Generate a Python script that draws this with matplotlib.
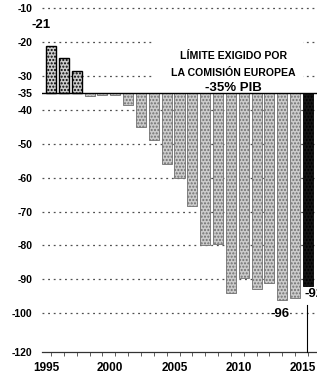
import numpy as np
import matplotlib
matplotlib.use('Agg')
import matplotlib.pyplot as plt
from matplotlib.patches import Rectangle
from matplotlib.transforms import ScaledTranslation

# Data (% del PIB)
years = np.arange(1995, 2016)
values = np.array([-21, -24.5, -28.5, -36, -35.5, -35.7, -38.5, -45, -49, -56, -60,
                   -68.5, -80, -79.5, -94, -89.5, -93, -91, -96, -95.5, -92])
base = -35
ytick_vals = [-10, -20, -30, -35, -40, -50, -60, -70, -80, -90, -100, -120]
grid_vals = [-10, -20, -30, -40, -50, -60, -70, -80, -90, -100]
xtick_vals = [1995, 2000, 2005, 2010, 2015]
title_lines = ['LÍMITE EXIGIDO POR', 'LA COMISIÓN EUROPEA']
title_value = '-35% PIB'

plt.rcParams['font.family'] = ['Liberation Sans', 'DejaVu Sans']

# broken axis below -100
def fwd(v):
    v = np.asarray(v, dtype=float)
    return np.where(v >= -100, v, -100 + (v + 100) * 0.575)

def inv(t):
    t = np.asarray(t, dtype=float)
    return np.where(t >= -100, t, -100 + (t + 100) / 0.575)

fig = plt.figure(figsize=(3.17, 3.76), dpi=100)
ax = fig.add_axes([42/317., 24/376., 275/317., 352/376.])
ax.set_yscale('function', functions=(fwd, inv))
ax.set_xlim(1994.3, 2015.7)
ax.set_ylim(-120, -7.5)

# gridlines
ax.hlines(grid_vals, 1994.3, 2015.7, colors='#505050', linewidths=0.9,
          linestyles=(0, (1.5, 3)), zorder=0.5)
ax.axhline(base, color='black', lw=1.0, zorder=3)

# bars
cols = ['#cccccc'] * (len(years) - 1) + ['#151515']
edges = ['#707070'] * (len(years) - 1) + ['#000000']
for i in range(3):
    edges[i] = 'black'
bars = ax.bar(years, values - base, bottom=base, width=0.78, color=cols,
              edgecolor=edges, linewidth=0.6, hatch='.....', zorder=2)
for i in range(3):
    bars[i].set_linewidth(1.0)

# white box behind the annotation
ax.add_patch(Rectangle((2002.9, -34.2), 11.7, 20.5, facecolor='white',
                       edgecolor='none', zorder=1))
for txt, yb in zip(title_lines, [-25.0, -30.1]):
    ax.text(2009.2, yb, txt, ha='center', va='baseline',
            fontsize=7.6, fontweight='bold', zorder=4)
ax.text(2009.2, -34.4, title_value, ha='center', va='baseline',
        fontsize=9.5, fontweight='bold', zorder=4)

# value labels
ax.text(years[0] - 0.8, -15.0, '%d' % values[0], ha='center', va='center',
        fontsize=9.5, fontweight='bold', zorder=4)
ax.text(years[18] - 0.2, -100.6, '%d' % values[18], ha='center', va='center',
        fontsize=9.5, fontweight='bold', zorder=4,
        bbox=dict(facecolor='white', edgecolor='none', pad=0.3))
ax.text(years[20] - 0.3, -94.4, '%d' % values[20], ha='left', va='center',
        fontsize=9.5, fontweight='bold', zorder=4)
ax.plot([years[20] - 0.05] * 2, [-97.6, -120], color='black', lw=0.8,
        zorder=4, clip_on=False)

# axes styling
for s in ['top', 'right', 'left']:
    ax.spines[s].set_visible(False)
ax.spines['bottom'].set_color('#333333')
ax.spines['bottom'].set_linewidth(0.9)
ax.set_yticks(ytick_vals)
ax.set_yticklabels([str(v) for v in ytick_vals])
ax.tick_params(axis='y', length=0, pad=7, labelsize=7.5)
ax.set_xticks(xtick_vals)
ax.set_xticks(years, minor=True)
ax.tick_params(axis='x', which='both', length=3, width=0.6, color='#444444',
               direction='out', pad=4, labelsize=8.5)
shift = ScaledTranslation(-5/100., 0, fig.dpi_scale_trans)
for lab in ax.get_xticklabels():
    lab.set_fontweight('bold')
    lab.set_transform(lab.get_transform() + shift)
for lab in ax.get_yticklabels():
    lab.set_fontweight('bold')

fig.savefig('out.png', dpi=100)
